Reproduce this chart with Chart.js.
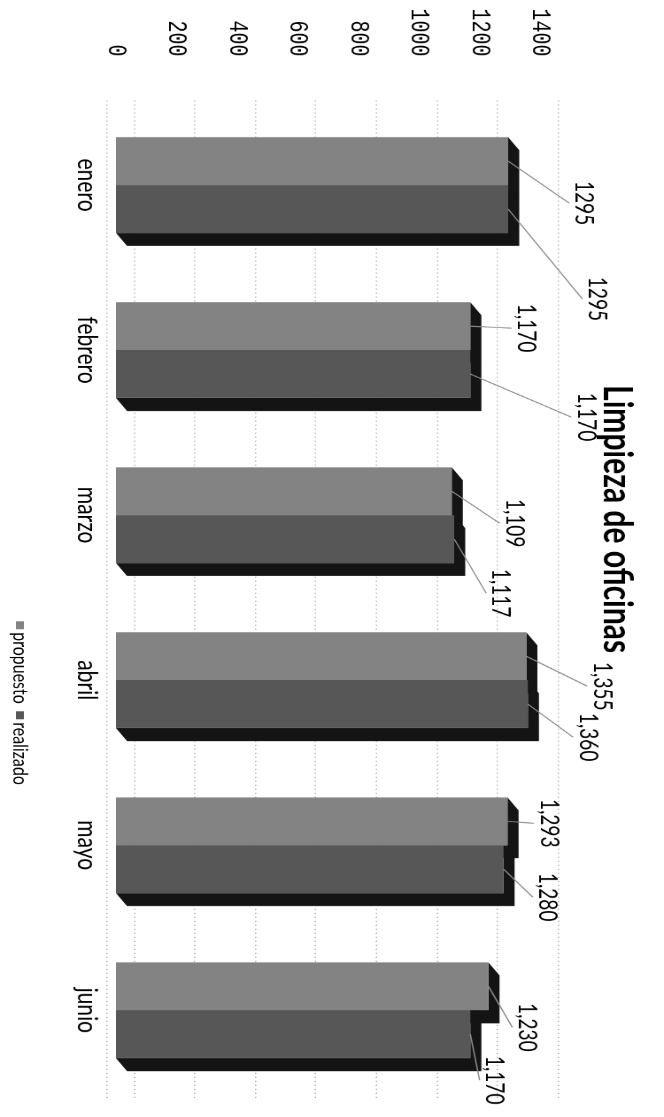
<!DOCTYPE html>
<html>
<head>
<meta charset="utf-8">
<script src="https://cdn.jsdelivr.net/npm/chart.js@4.4.0/dist/chart.umd.min.js"></script>
<style>
  html, body { margin: 0; padding: 0; background: #ffffff; overflow: hidden; }
  body { width: 664px; height: 1117px; position: relative; }
  #wrap {
    position: absolute; left: 0; top: 0;
    width: 1117px; height: 500px;
    transform-origin: 0 0;
    transform: matrix(0, 1, -1.328, 0, 664, 0);
  }
</style>
</head>
<body>
<div id="wrap"><canvas id="c" width="1117" height="500"></canvas></div>
<script>
// ---- data ----
const categories = ['enero', 'febrero', 'marzo', 'abril', 'mayo', 'junio'];
const propuesto = [1295, 1170, 1109, 1355, 1293, 1230];
const realizado = [1295, 1170, 1117, 1360, 1280, 1170];
const seriesNames = ['propuesto', 'realizado'];
const valueTicks = [0, 200, 400, 600, 800, 1000, 1200, 1400];
const thousandsSep = [false, true, true, true, true, true];
const chartTitle = 'Limpieza de oficinas';

// ---- label placement (offsets from bar top, px) ----
const labelOffsets = [
  [[42, -57], [2, -42], [32, -47], [30, -57], [2, -31], [41, -29]],
  [[90, -67], [43, -87], [54, -35], [33, -45], [28, -33], [46, -18]]
];

const colors = ['#838383', '#575757'];
const depthColor = '#141414';
const DEPTH_X = 13, DEPTH_Y = -8.3;

function fmt(v, j) {
  return thousandsSep[j] ? v.toLocaleString('en-US') : String(v);
}

const depthPlugin = {
  id: 'depth',
  beforeDatasetsDraw(chart) {
    const ctx = chart.ctx;
    const yScale = chart.scales.y;
    const area = chart.chartArea;
    // dotted back-wall grid
    ctx.save();
    ctx.strokeStyle = '#9a9a9a';
    ctx.lineWidth = 1;
    ctx.setLineDash([1, 3]);
    valueTicks.forEach(v => {
      const y = Math.round(yScale.getPixelForValue(v) - 14.3) + 0.5;
      ctx.beginPath();
      ctx.moveTo(area.left - 2, y);
      ctx.lineTo(area.right + 8, y);
      ctx.stroke();
    });
    const y0 = Math.round(yScale.getPixelForValue(0) + 6) + 0.5;
    ctx.beginPath();
    ctx.moveTo(area.left - 2, y0);
    ctx.lineTo(area.right + 8, y0);
    ctx.stroke();
    ctx.restore();
    // 3D extrusion
    ctx.save();
    ctx.fillStyle = depthColor;
    chart.data.datasets.forEach((ds, i) => {
      chart.getDatasetMeta(i).data.forEach(bar => {
        const xl = bar.x - bar.width / 2, xr = bar.x + bar.width / 2;
        const yt = bar.y, yb = bar.base;
        ctx.beginPath();
        ctx.moveTo(xl, yt);
        ctx.lineTo(xl + DEPTH_X, yt + DEPTH_Y);
        ctx.lineTo(xr + DEPTH_X, yt + DEPTH_Y);
        ctx.lineTo(xr + DEPTH_X, yb + DEPTH_Y);
        ctx.lineTo(xr, yb);
        ctx.lineTo(xr, yt);
        ctx.closePath();
        ctx.fill();
      });
    });
    ctx.restore();
  },
  afterDatasetsDraw(chart) {
    const ctx = chart.ctx;
    ctx.save();
    chart.data.datasets.forEach((ds, i) => {
      chart.getDatasetMeta(i).data.forEach((bar, j) => {
        const off = labelOffsets[i][j];
        const lx = bar.x + off[0], ly = bar.y + off[1];
        // leader line
        ctx.strokeStyle = '#8c8c8c';
        ctx.lineWidth = 1;
        ctx.setLineDash([]);
        ctx.beginPath();
        ctx.moveTo(bar.x, bar.y);
        ctx.lineTo(lx, ly + 11);
        ctx.stroke();
        // text
        ctx.fillStyle = '#000';
        ctx.font = '19px Lato';
        ctx.textAlign = 'center';
        ctx.textBaseline = 'middle';
        ctx.fillText(fmt(ds.data[j], j), lx, ly);
      });
    });
    // title
    ctx.font = 'bold 30px Lato';
    ctx.textAlign = 'center';
    ctx.textBaseline = 'alphabetic';
    ctx.fillStyle = '#000';
    ctx.fillText(chartTitle, 519, 45);
    // legend
    ctx.font = '16px Lato';
    ctx.textAlign = 'left';
    ctx.textBaseline = 'middle';
    const legendX = [621, 711];
    seriesNames.forEach((name, i) => {
      ctx.fillStyle = colors[i];
      ctx.fillRect(legendX[i], 482, 8, 6);
      ctx.fillStyle = '#000';
      ctx.fillText(name, legendX[i] + 11, 485);
    });
    ctx.restore();
  }
};

new Chart(document.getElementById('c'), {
  type: 'bar',
  data: {
    labels: categories,
    datasets: [
      { label: seriesNames[0], data: propuesto, backgroundColor: colors[0], borderWidth: 0,
        categoryPercentage: 0.58, barPercentage: 1.0 },
      { label: seriesNames[1], data: realizado, backgroundColor: colors[1], borderWidth: 0,
        categoryPercentage: 0.58, barPercentage: 1.0 }
    ]
  },
  options: {
    responsive: false,
    animation: false,
    devicePixelRatio: 1.5,
    layout: { padding: { left: 0, right: 24.5, top: 93.4, bottom: 0 } },
    plugins: { legend: { display: false }, title: { display: false }, tooltip: { enabled: false } },
    scales: {
      x: {
        grid: { display: false, drawTicks: false },
        border: { display: false },
        ticks: { color: '#000', font: { family: 'Lato', size: 21 }, padding: 9 },
        afterFit(scale) { scale.height = 87.3; }
      },
      y: {
        min: 0, max: 1400,
        afterBuildTicks(scale) { scale.ticks = valueTicks.map(v => ({ value: v })); },
        grid: { display: false, drawTicks: false },
        border: { display: false },
        ticks: {
          color: '#000', font: { family: 'Liberation Mono', size: 20 }, padding: 46,
          callback: (v) => String(v)
        },
        afterFit(scale) { scale.width = 102.5; }
      }
    }
  },
  plugins: [depthPlugin]
});
</script>
</body>
</html>
